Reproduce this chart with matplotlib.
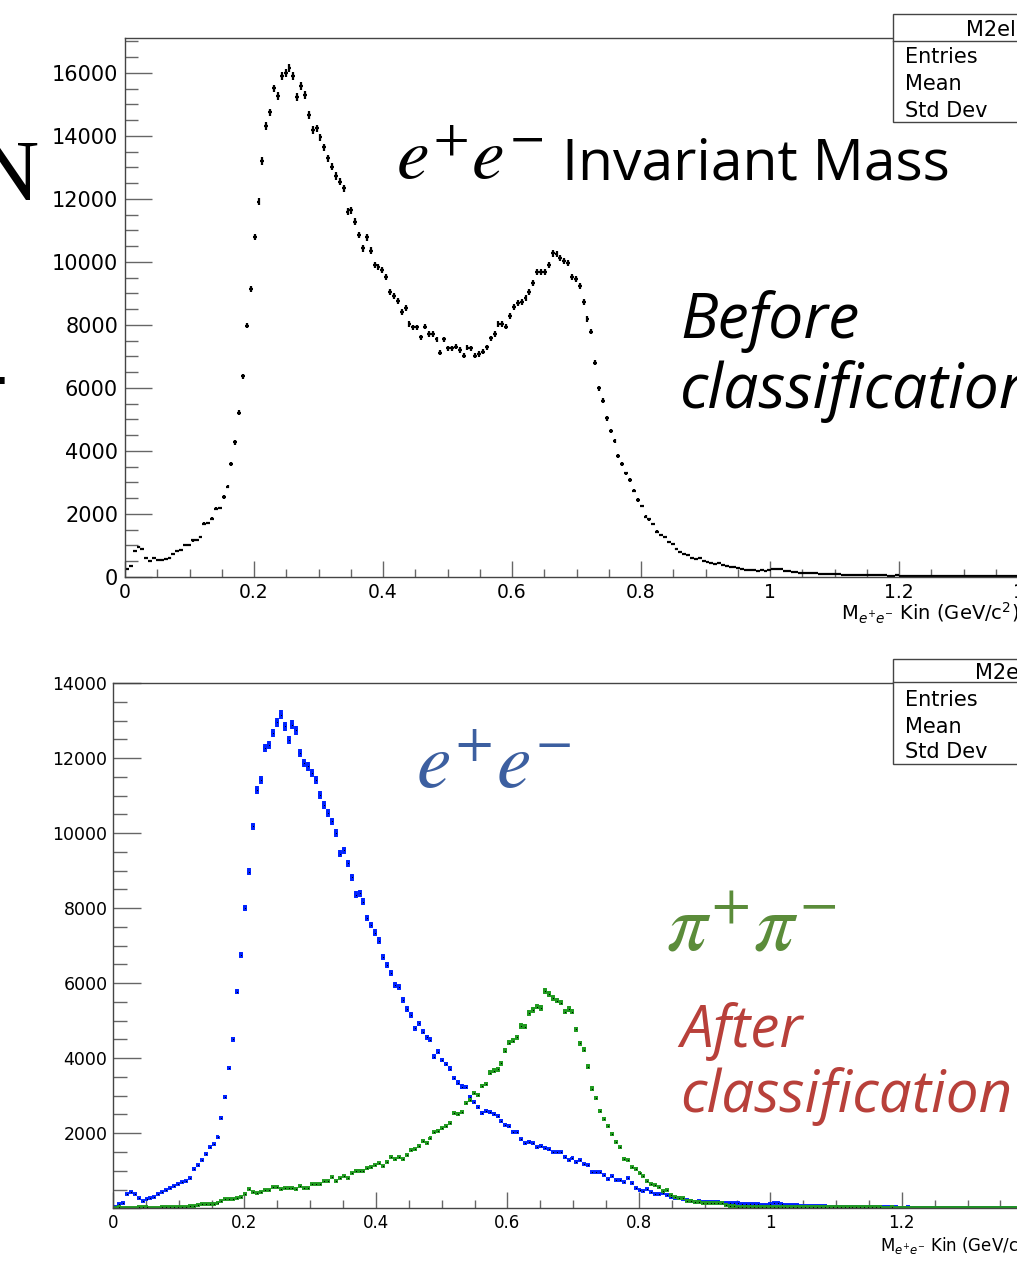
import numpy as np
import matplotlib
matplotlib.use("Agg")
import matplotlib.pyplot as plt
from matplotlib.ticker import MultipleLocator, FuncFormatter
from matplotlib.patches import Rectangle
from matplotlib.lines import Line2D

# histogram bin width in GeV/c^2 (bins start at 0)
BIN_WIDTH = 0.006

# top panel: all pairs, before classification
counts_before = [
    244, 360, 835, 940, 880, 615, 510, 615, 540, 540, 560, 595, 720, 830, 860, 1000,
    1020, 1160, 1180, 1260, 1690, 1710, 1850, 2160, 2190, 2540, 2870, 3580, 4270, 5220,
    6380, 7980,
    9130, 10800, 11915, 13206, 14317, 14750, 15510, 15270, 15905, 16010, 16150, 15905,
    15250, 15590, 15300, 14667, 14190, 14240, 13960, 13640, 13290, 13025, 12730, 12550,
    12340, 11600,
    11640, 11280, 10857, 10434, 10783, 10360, 9905, 9830, 9746, 9513, 9058, 8921, 8772,
    8423, 8529, 8032, 7926, 7926, 7609, 7947, 7714, 7714, 7545, 7122, 7545, 7260, 7260,
    7312, 7206, 7026, 7280, 7260, 7026, 7079, 7153, 7291, 7576, 7714, 8032, 8032, 7947,
    8286, 8561, 8709, 8741, 8847, 9058, 9323, 9693, 9693, 9693, 9905, 10275, 10254,
    10117, 10042, 9958, 9513, 9450, 9238, 8741, 8180, 7788, 6804,
    5990, 5597, 5037, 4645, 4328, 3841, 3587, 3291, 3079, 2740, 2444, 2254, 1915, 1831,
    1683, 1439, 1333, 1280, 1122, 1048, 878, 804, 730, 698,
    600, 561, 593, 519, 487, 455, 413, 434, 381, 340, 328, 307, 275, 250, 222, 215, 212,
    205, 222, 200, 215, 250, 255, 240, 205,
    185, 160, 150, 140, 128, 120, 112, 118, 104, 96, 92, 88, 90, 80, 76, 72, 75, 66, 62,
    64, 58, 55, 57, 52, 50, 53, 47, 45, 48, 44, 42, 45, 40, 38, 41, 36, 35, 38, 34, 33,
    35, 31, 30, 33, 29, 28, 30, 27, 26, 28, 25, 24, 26, 23, 22, 24, 21, 20, 22, 20,
]

# bottom panel: classified as e+e-
counts_ee = [
    27, 115, 150, 373, 435, 373, 284, 204, 240, 267, 310, 373, 426, 480, 533, 595, 640,
    710, 737, 808, 1057, 1146, 1288, 1448, 1626, 1706, 1893, 2417, 2977, 3742, 4506,
    5777, 6747,
    8000, 8976, 10176, 11155, 11421, 12267, 12355, 12667, 12950, 13155, 12843, 12488,
    12888, 12736, 12133, 11867, 11776, 11600, 11421, 11021, 10755, 10533, 10309, 10000,
    9448, 9536, 9200, 8827, 8355, 8400, 8176, 7733, 7555, 7350, 7136, 6693, 6488, 6267,
    5955, 5893, 5555, 5306, 5155,
    4800, 4933, 4710, 4560, 4488, 4043, 4176, 3955, 3848, 3723, 3466, 3350, 3243, 3225,
    2960, 2843, 2710, 2533, 2603, 2560, 2515, 2461, 2328, 2230, 2195, 2043, 2043, 1840,
    1733, 1777, 1733, 1626, 1661, 1617, 1573, 1501, 1501, 1501, 1377, 1288, 1333, 1244,
    1288, 1181, 1155, 968, 968, 968, 888, 790, 861, 746, 746, 701, 800, 683, 550, 488,
    461, 506, 435, 381, 381, 400, 355, 310, 283, 266, 240, 221, 195, 177, 204, 168,
    180, 172, 165, 158, 150, 145, 140, 132, 128, 125, 120, 118, 115, 105, 100, 95, 110,
    150, 145, 120, 95, 88, 80, 75, 70, 66, 62, 58, 55, 50, 48, 45, 44, 40, 38, 36, 35,
    33, 32, 30, 30, 28, 27, 26, 30, 24, 24, 22, 25, 21, 20, 22, 19, 18, 20, 17, 17, 19,
    16, 16, 18, 15, 15, 16, 14, 14, 16, 13, 13, 14, 12, 12, 13, 11, 11, 12, 10, 10, 11,
]

# bottom panel: classified as pi+pi-
counts_pipi = [
    10, 44, 17, 17, 17, 17, 30, 44, 44, 17, 17, 17, 44, 44, 44, 44, 44, 44, 44, 62,
    62, 88, 106, 106, 106, 115, 150, 204, 240, 240, 240, 284, 310, 373, 524, 426, 400,
    444, 480, 480, 577, 577, 506, 550, 550, 550, 506, 604, 550, 533, 648, 648, 648, 737,
    737, 843, 737, 817, 870, 800, 933, 1004, 1004, 1004, 1066, 1093, 1155, 1200,
    1128, 1244, 1377, 1306, 1359, 1306, 1421, 1555, 1573, 1661, 1795, 1750, 1866, 2026,
    2070, 2133, 2195, 2283, 2533, 2506, 2577, 2800, 2888, 3066, 3021, 3261, 3315, 3616,
    3670, 3706, 3866, 4203, 4416, 4470, 4560, 4861, 4843, 5200, 5288, 5376, 5333, 5795,
    5715, 5600, 5536, 5483, 5243, 5306, 5243, 4773, 4400, 4221, 3776, 3190, 2933, 2595,
    2390, 2203, 1981, 1777, 1626, 1323, 1288, 1093, 1057, 933, 861, 737, 648, 621, 577,
    470, 488, 355, 310, 284, 266, 204, 195, 177, 160, 150, 150, 150, 150, 133, 133, 88,
    62, 62, 44, 44, 44, 44, 44, 44,
    42, 40, 38, 40, 36, 35, 36, 33, 32, 34, 30, 30, 31, 28, 28, 29, 27, 26, 28, 25, 25,
    26, 24, 24, 25, 23, 23, 24, 22, 22, 23, 21, 21, 22, 20, 20, 21, 19, 19, 20, 18, 18,
    19, 17, 17, 18, 16, 16, 17, 15, 15, 16, 14, 14, 15, 13, 13, 14, 12, 12, 13, 11, 11,
    12, 10, 10, 11,
]

x_ticks = [0, 0.2, 0.4, 0.6, 0.8, 1.0, 1.2, 1.4]
stat_rows = ["Entries", "Mean", "Std Dev"]
stat_title = "M2elKin"

W, H = 1017, 1267
fig = plt.figure(figsize=(W / 100, H / 100), dpi=100)


def fx(px):
    return px / W


def fy(py):
    return 1 - py / H


def draw_hist(ax, values, color, lw, dots=False):
    y = np.array(values, dtype=float)
    x = BIN_WIDTH * (np.arange(len(y)) + 0.5)
    ax.errorbar(x, y, xerr=BIN_WIDTH / 2, yerr=np.sqrt(y), fmt="none",
                ecolor=color, elinewidth=lw, capsize=0)
    if dots:
        ax.plot(x, y, "s", color="black", ms=0.7, mew=0)


def style_axes(ax, ylen, xlen, ysize, xsize, ypad, xpad, show_zero):
    ax.set_xlim(0, 1.5)
    ax.xaxis.set_major_locator(MultipleLocator(0.2))
    ax.xaxis.set_minor_locator(MultipleLocator(0.05))
    ax.yaxis.set_major_locator(MultipleLocator(2000))
    ax.yaxis.set_minor_locator(MultipleLocator(500))
    ax.set_xticks(x_ticks)
    ax.xaxis.set_major_formatter(FuncFormatter(lambda v, p: "%g" % v))
    ax.yaxis.set_major_formatter(
        FuncFormatter(lambda v, p: "%d" % v if (v > 0 or show_zero) else ""))
    for s in ax.spines.values():
        s.set_color("#444444")
        s.set_linewidth(1.0)
    ax.tick_params(which="both", direction="in", color="#666666", width=1.0,
                   top=False, right=False)
    ax.tick_params(axis="y", which="major", length=ylen, labelsize=ysize, pad=ypad)
    ax.tick_params(axis="y", which="minor", length=ylen / 2)
    ax.tick_params(axis="x", which="major", length=xlen, labelsize=xsize, pad=xpad)
    ax.tick_params(axis="x", which="minor", length=xlen / 2)


def stats_box(top, line_y, bottom, title_x, title_base, row_bases):
    fig.add_artist(Rectangle((fx(893), fy(bottom)), fx(200), (bottom - top) / H,
                             transform=fig.transFigure, facecolor="white",
                             edgecolor="#444444", lw=1.0, zorder=5))
    fig.add_artist(Line2D([fx(893), fx(1100)], [fy(line_y), fy(line_y)],
                          transform=fig.transFigure, color="#444444", lw=1.0, zorder=6))
    fig.text(fx(title_x), fy(title_base), stat_title, fontsize=15, va="baseline",
             zorder=7)
    for label, base in zip(stat_rows, row_bases):
        fig.text(fx(905), fy(base), label, fontsize=15, va="baseline", zorder=7)


# ---- top panel ----
ax1 = fig.add_axes([fx(125), fy(577), 967.5 / W, 539 / H])
ax1.set_ylim(0, 17111)
draw_hist(ax1, counts_before, "black", 1.6)
style_axes(ax1, 19.4, 11.5, 15, 13.5, 5, 4, True)

stats_box(14, 41, 122, 966, 36, [63, 90.5, 117])

fig.text(fx(841), fy(620), r"M$_{e^{+}e^{-}}$ Kin (GeV/c$^{2}$)", fontsize=14,
         va="baseline")

fig.text(fx(396), fy(180), r"$e^{+}e^{-}$", fontsize=53, va="baseline",
         math_fontfamily="stix")
fig.text(fx(562), fy(180), "Invariant Mass", fontsize=41, va="baseline",
         family="Open Sans")
fig.text(fx(680), fy(338), "Before", fontsize=45, va="baseline",
         family="Open Sans", style="italic")
fig.text(fx(680), fy(408), "classification", fontsize=45, va="baseline",
         family="Open Sans", style="italic")

fig.text(fx(39), fy(200), "N", fontsize=62, va="baseline", ha="right",
         family="Liberation Serif")
fig.text(fx(8), fy(401), "-", fontsize=62, va="baseline", ha="right",
         family="Liberation Serif")

# ---- bottom panel ----
ax2 = fig.add_axes([fx(113), fy(1208.3), 986 / W, 525.3 / H])
ax2.set_ylim(0, 14000)
draw_hist(ax2, counts_ee, "#0022ff", 2.8, dots=True)
draw_hist(ax2, counts_pipi, "#1f9a1f", 2.8, dots=True)
style_axes(ax2, 20, 11.5, 12.5, 12, 4, 4, False)

stats_box(659, 682, 764, 975, 679, [706.5, 733, 758])

fig.text(fx(880), fy(1252), r"M$_{e^{+}e^{-}}$ Kin (GeV/c$^{2}$)", fontsize=12,
         va="baseline")

fig.text(fx(416), fy(788), r"$e^{+}e^{-}$", fontsize=56, va="baseline",
         color="#3c5fa0", math_fontfamily="stix")
fig.text(fx(666), fy(950), r"$\pi^{+}\pi^{-}$", fontsize=58, va="baseline",
         color="#5b8c3a", math_fontfamily="stix")
fig.text(fx(680), fy(1047), "After", fontsize=42, va="baseline",
         family="Open Sans", style="italic", color="#b8403a")
fig.text(fx(680), fy(1112), "classification", fontsize=42, va="baseline",
         family="Open Sans", style="italic", color="#b8403a")

fig.savefig("out.png", dpi=100)
